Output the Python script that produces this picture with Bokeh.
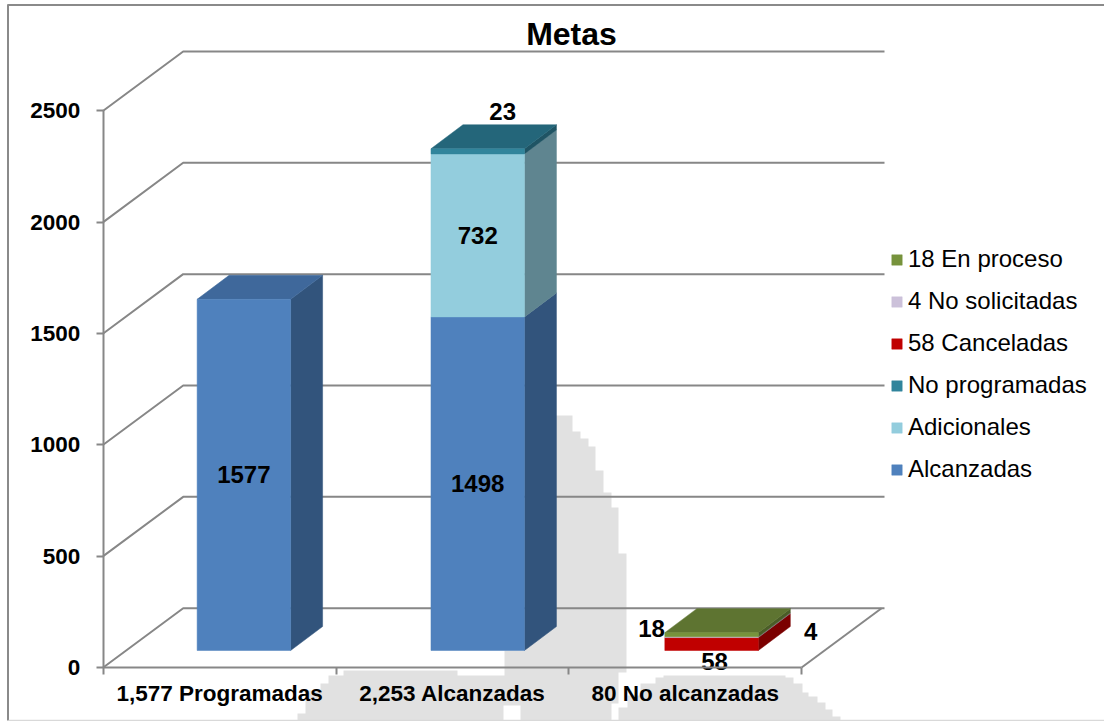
from bokeh.plotting import figure
from bokeh.models import (ColumnDataSource, FixedTicker, Label, Legend, LegendItem,
                          LinearAxis, Range1d)
from bokeh.core.properties import value
from bokeh.embed import file_html
from bokeh.resources import INLINE

# ---- data -----------------------------------------------------------------
categories = ["1,577 Programadas", "2,253 Alcanzadas", "80 No alcanzadas"]
alcanzadas = [1577, 1498, 0]
adicionales = [0, 732, 0]
no_programadas = [0, 23, 0]
canceladas = [0, 0, 58]
no_solicitadas = [0, 0, 4]
en_proceso = [0, 0, 18]
y_ticks = [0, 500, 1000, 1500, 2000, 2500]
title_text = "Metas"

series = [
    ("Alcanzadas", alcanzadas, "#4F81BD", "#32547C", "#3F689B"),
    ("Adicionales", adicionales, "#93CDDD", "#5F8590", "#76A5B2"),
    ("No programadas", no_programadas, "#31859C", "#1F5464", "#24667A"),
    ("58 Canceladas", canceladas, "#C00000", "#7B0000", "#990000"),
    ("4 No solicitadas", no_solicitadas, "#CCC1DA", "#857E8E", "#A39AAE"),
    ("18 En proceso", en_proceso, "#77933C", "#4A5D27", "#5E7431"),
]

# ---- geometry of the pseudo-3D box ----------------------------------------
FONT = "Liberation Sans"
GRID = "#878787"
FIG_W, FIG_H = 1104, 721
PX_X0, PX_PER_CAT = 102.7, 232.8     # x = 0 pixel, pixels per category
PX_Y0, PX_PER_VAL = 667.0, 0.2227    # value 0 pixel, pixels per unit
WALL_DX, WALL_DY = 80 / PX_PER_CAT, 59.3 / PX_PER_VAL
GRID_END = (884 - PX_X0) / PX_PER_CAT
BAR_X0, BAR_PITCH, BAR_W = 0.4035, 1.0045, 0.4015
BAR_BASE = 17 / PX_PER_VAL
SIDE_DX, SIDE_DY = 32 / PX_PER_CAT, 24 / PX_PER_VAL

p = figure(
    width=FIG_W, height=FIG_H, output_backend="svg", toolbar_location=None,
    x_axis_type=None, y_axis_type=None, min_border=0,
    x_range=Range1d(-PX_X0 / PX_PER_CAT, (FIG_W - PX_X0) / PX_PER_CAT),
    y_range=Range1d((PX_Y0 - FIG_H) / PX_PER_VAL, PX_Y0 / PX_PER_VAL),
    margin=0,
)
p.outline_line_color = None
p.background_fill_color = "white"
p.border_fill_color = "white"
p.extra_x_ranges["px"] = Range1d(0, FIG_W)
p.extra_y_ranges["px"] = Range1d(FIG_H, 0)


def stairs(xs, ys):
    """Blocky outline: every slanted edge of the pale shape is drawn as one step."""
    ox, oy = [xs[0]], [ys[0]]
    for x2, y2 in zip(xs[1:], ys[1:]):
        x1, y1 = ox[-1], oy[-1]
        if x1 != x2 and y1 != y2:
            if y2 > y1:
                ox.append(x2); oy.append(y1)
            else:
                ox.append(x1); oy.append(y2)
        ox.append(x2); oy.append(y2)
    return ox, oy


# ---- pale stepped shape behind the chart ----------------------------------
shade_a_x = [297, 305, 320, 328, 343, 365, 457, 504, 504, 525, 525, 572,
             580, 588, 595, 603, 611, 618, 626, 618, 618, 611, 611, 520, 520, 503, 503]
shade_a_y = [721, 713, 690, 683, 675, 670, 675, 675, 650, 650, 415, 431,
             438, 446, 470, 492, 507, 553, 672, 672, 703, 703, 721, 721, 705, 705, 721]
shade_b_x = [618, 627, 640, 655, 663, 672, 785, 793, 802, 808, 817, 825, 832, 840]
shade_b_y = [721, 707, 695, 683, 677, 675, 677, 683, 692, 696, 702, 709, 716, 721]
for xs, ys in ((shade_a_x, shade_a_y), (shade_b_x, shade_b_y)):
    sx, sy = stairs(xs, ys)
    p.patch(sx, sy, x_range_name="px", y_range_name="px", fill_color="#E1E1E1", line_color=None)

# ---- chart border ---------------------------------------------------------
p.line([7.5, 7.5], [4, 720], x_range_name="px", y_range_name="px", line_color="#8A8A8A", line_width=2)
p.line([7, 1104], [4.5, 4.5], x_range_name="px", y_range_name="px", line_color="#8A8A8A", line_width=2)
p.line([8, 1104], [720, 720], x_range_name="px", y_range_name="px", line_color="#D9D9D9", line_width=1.5)

# ---- walls and floor ------------------------------------------------------
for t in y_ticks:
    p.line([0, WALL_DX, GRID_END], [t, t + WALL_DY, t + WALL_DY], line_color=GRID, line_width=2)
p.line([3, 3 + WALL_DX], [0, WALL_DY], line_color=GRID, line_width=2)

# ---- stacked bars ---------------------------------------------------------
swatches = {}
label_x, label_y, label_t, label_xo, label_yo = [], [], [], [], []
offsets = {"23": (25, -40), "58": (3, 17), "18": (-60, -6), "4": (99, -6)}
for i in range(len(categories)):
    left = BAR_X0 + i * BAR_PITCH
    right = left + BAR_W
    base = BAR_BASE
    present = [s for s in series if s[1][i] > 0]
    for j, (name, vals, front, side, top) in enumerate(present):
        tip = base + vals[i]
        p.patch([right, right + SIDE_DX, right + SIDE_DX, right],
                [base, base + SIDE_DY, tip + SIDE_DY, tip],
                fill_color=side, line_color=side, line_width=0.5)
        if j == len(present) - 1:
            p.patch([left, left + SIDE_DX, right + SIDE_DX, right],
                    [tip, tip + SIDE_DY, tip + SIDE_DY, tip],
                    fill_color=top, line_color=top, line_width=0.5)
        base = tip
        label = str(vals[i])
        ox, oy = offsets.get(label, (0, 0))
        label_x.append((left + right) / 2)
        label_y.append(tip - vals[i] / 2)
        label_t.append(label)
        label_xo.append(ox)
        label_yo.append(oy)
    base = BAR_BASE
    for name, vals, front, side, top in present:
        tip = base + vals[i]
        r = p.quad(left=[left], right=[right], bottom=[base], top=[tip], fill_color=front,
                   line_color=front, line_width=0.5)
        swatches.setdefault(name, r)
        base = tip

p.text(x="x", y="y", text="t", x_offset="xo", y_offset="yo",
       source=ColumnDataSource(dict(x=label_x, y=label_y, t=label_t, xo=label_xo, yo=label_yo)),
       text_font=value(FONT), text_font_style="bold", text_font_size="24px",
       text_color="black", text_align="center", text_baseline="middle")

# ---- axes -----------------------------------------------------------------
yaxis = LinearAxis(fixed_location=0, ticker=FixedTicker(ticks=y_ticks), bounds=(0, y_ticks[-1]))
yaxis.axis_line_color = GRID
yaxis.axis_line_width = 2
yaxis.major_tick_line_color = GRID
yaxis.major_tick_line_width = 2
yaxis.major_tick_in = 0
yaxis.major_tick_out = 7
yaxis.minor_tick_line_color = None
yaxis.major_label_standoff = 16
yaxis.major_label_text_font = FONT
yaxis.major_label_text_font_style = "bold"
yaxis.major_label_text_font_size = "22.5px"
yaxis.major_label_text_color = "black"
p.add_layout(yaxis, "left")

centres = [i + 0.5 for i in range(len(categories))]
xaxis = LinearAxis(fixed_location=0, bounds=(0, len(categories)),
                   ticker=FixedTicker(ticks=centres, minor_ticks=list(range(len(categories) + 1))))
xaxis.major_label_overrides = dict(zip(centres, categories))
xaxis.axis_line_color = GRID
xaxis.axis_line_width = 2
xaxis.major_tick_line_color = None
xaxis.major_tick_in = 0
xaxis.major_tick_out = 0
xaxis.minor_tick_line_color = GRID
xaxis.minor_tick_line_width = 2
xaxis.minor_tick_in = 0
xaxis.minor_tick_out = 7
xaxis.major_label_standoff = 6
xaxis.major_label_text_font = FONT
xaxis.major_label_text_font_style = "bold"
xaxis.major_label_text_font_size = "22.5px"
xaxis.major_label_text_color = "black"
p.add_layout(xaxis, "below")

# ---- title and legend -----------------------------------------------------
p.add_layout(Label(x=571, y=33, x_range_name="px", y_range_name="px", text=title_text,
                   text_font=FONT, text_font_style="bold", text_font_size="32px",
                   text_color="black", text_align="center", text_baseline="middle"))

items = [LegendItem(label=s[0], renderers=[swatches[s[0]]]) for s in reversed(series)]
legend = Legend(items=items, location=(890, 238), padding=0, margin=0, spacing=14,
                glyph_width=13, glyph_height=13, label_standoff=5,
                label_text_font=FONT, label_text_font_size="24px", label_text_color="black",
                border_line_color=None, background_fill_alpha=0)
p.add_layout(legend, "center")

open("out.html", "w").write(file_html(p, INLINE))
